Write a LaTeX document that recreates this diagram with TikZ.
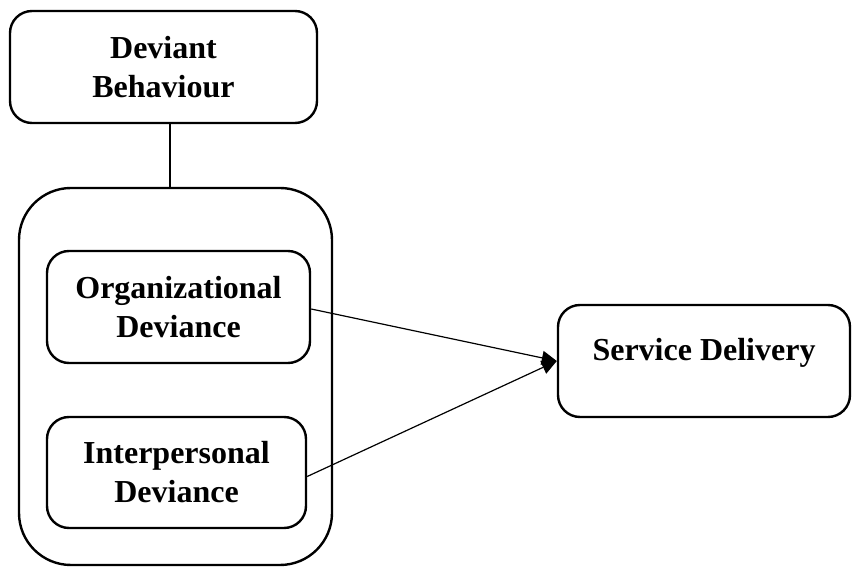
\documentclass[tikz,border=0pt]{standalone}
\usepackage{fontspec}
\setmainfont{Liberation Serif}
\usetikzlibrary{arrows.meta}
\begin{document}
\begin{tikzpicture}[x=1pt,y=-1pt,
  box/.style={draw, line width=2.4pt, rounded corners=22pt, inner sep=0pt,
    font=\fontsize{32}{39}\selectfont\bfseries, align=center},
  conn/.style={line width=1.2pt},
  arr/.style={conn, -{Triangle[length=15pt,width=14pt]}}]
\useasboundingbox (0,0) rectangle (855,569);
\node[box, minimum width=307pt, minimum height=112pt] (deviant) at (163.5,67) {Deviant\\Behaviour};
\node[box, rounded corners=52pt, minimum width=313pt, minimum height=377pt] (group) at (175.5,376.5) {};
\node[box, minimum width=263pt, minimum height=112pt] (org) at (178.5,307) {Organizational\\Deviance};
\node[box, minimum width=259pt, minimum height=111pt] (inter) at (176.5,472.5) {Interpersonal\\Deviance};
\node[box, minimum width=292pt, minimum height=112pt, text height=22pt, text depth=22pt] (service) at (704,361) {Service Delivery};
\draw[conn] ([xshift=6.5pt]deviant.south) -- ([xshift=-5.5pt]group.north);
\draw[arr] ([yshift=-2pt]org.east) -- (service.west);
\draw[arr] ([yshift=-4pt]inter.east) -- (service.west);
\end{tikzpicture}
\end{document}
